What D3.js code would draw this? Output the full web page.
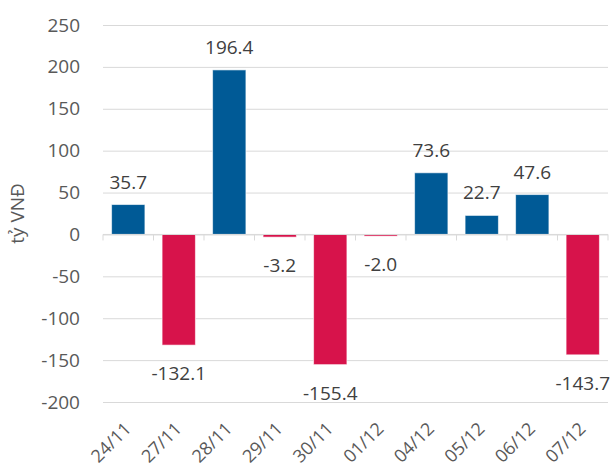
<!DOCTYPE html>
<html>
<head>
<meta charset="utf-8">
<script src="https://cdn.jsdelivr.net/npm/d3@7"></script>
<style>
  body { margin: 0; background: #fff; }
  text { font-family: "Open Sans", "Noto Sans", sans-serif; }
  .grid line { stroke: #d9d9d9; stroke-width: 1; }
  .tick-label { fill: #595959; font-size: 19px; }
  .x-label { fill: #595959; font-size: 18px; }
  .value-label { fill: #404040; font-size: 19px; }
</style>
</head>
<body>
<div id="chart"></div>
<script>
// Daily net value chart (tỷ VNĐ), Excel-style column chart redrawn with D3.

const width = 611;
const height = 472;
const margin = { top: 25, right: 3, bottom: 70, left: 103 };

const dates = ["24/11", "27/11", "28/11", "29/11", "30/11", "01/12", "04/12", "05/12", "06/12", "07/12"];
const values = [35.7, -132.1, 196.4, -3.2, -155.4, -2.0, 73.6, 22.7, 47.6, -143.7];
const yTicks = [-200, -150, -100, -50, 0, 50, 100, 150, 200, 250];
const yTitle = "tỷ VNĐ";

const chartWidth = width - margin.left - margin.right;
const chartHeight = height - margin.top - margin.bottom;

const svg = d3.select("#chart")
  .append("svg")
  .attr("width", width)
  .attr("height", height);

const chart = svg.append("g")
  .attr("transform", `translate(${margin.left}, ${margin.top})`);

const data = dates.map((d, i) => ({ date: d, value: values[i] }));

const xScale = d3.scaleBand()
  .domain(dates)
  .range([0, chartWidth])
  .paddingInner(0.34)
  .paddingOuter(0.17);

const yScale = d3.scaleLinear()
  .domain([-200, 250])
  .range([chartHeight, 0]);

// gridlines + y tick labels (plain hyphen minus like the original)
const yAxis = chart.append("g")
  .attr("class", "grid")
  .call(d3.axisLeft(yScale)
    .tickValues(yTicks)
    .tickFormat(d => String(d))
    .tickSize(-chartWidth)
    .tickPadding(23));
yAxis.select(".domain").remove();
yAxis.selectAll("text")
  .attr("class", "tick-label")
  .attr("fill", null);

// bars
chart.selectAll(".bar")
  .data(data)
  .join("rect")
  .attr("class", "bar")
  .attr("x", d => xScale(d.date))
  .attr("width", xScale.bandwidth())
  .attr("y", d => yScale(Math.max(0, d.value)))
  .attr("height", d => Math.abs(yScale(d.value) - yScale(0)))
  .attr("fill", d => d.value >= 0 ? "#005a96" : "#d7134b")
  .attr("stroke", "#ffffff")
  .attr("stroke-opacity", 0.6)
  .attr("stroke-width", 1);

// zero axis with category ticks
const zeroY = yScale(0);
chart.append("line")
  .attr("x1", 0)
  .attr("x2", chartWidth)
  .attr("y1", zeroY)
  .attr("y2", zeroY)
  .attr("stroke", "#d9d9d9");

const boundaries = d3.range(dates.length + 1).map(i => i * xScale.step());
chart.selectAll(".cat-tick")
  .data(boundaries)
  .join("line")
  .attr("class", "cat-tick")
  .attr("x1", d => d)
  .attr("x2", d => d)
  .attr("y1", zeroY)
  .attr("y2", zeroY + 6)
  .attr("stroke", "#d9d9d9");

// value labels
chart.selectAll(".value-label")
  .data(data)
  .join("text")
  .attr("class", "value-label")
  .attr("x", d => xScale(d.date) + xScale.bandwidth() / 2)
  .attr("y", d => d.value >= 0 ? yScale(d.value) - 16 : yScale(d.value) + 35)
  .attr("text-anchor", "middle")
  .text(d => d.value.toFixed(1));

// x labels, rotated
const xAxis = chart.append("g")
  .attr("transform", `translate(0, ${chartHeight})`)
  .call(d3.axisBottom(xScale).tickSize(0).tickPadding(0));
xAxis.select(".domain").remove();
xAxis.selectAll("text")
  .attr("class", "x-label")
  .attr("fill", null)
  .attr("y", 0)
  .attr("dy", 0)
  .attr("text-anchor", "end")
  .attr("transform", "translate(4, 28) rotate(-45)");

// y title
svg.append("text")
  .attr("class", "tick-label")
  .attr("transform", "rotate(-90)")
  .attr("x", -(margin.top + chartHeight / 2))
  .attr("y", 24)
  .attr("text-anchor", "middle")
  .text(yTitle);
</script>
</body>
</html>
